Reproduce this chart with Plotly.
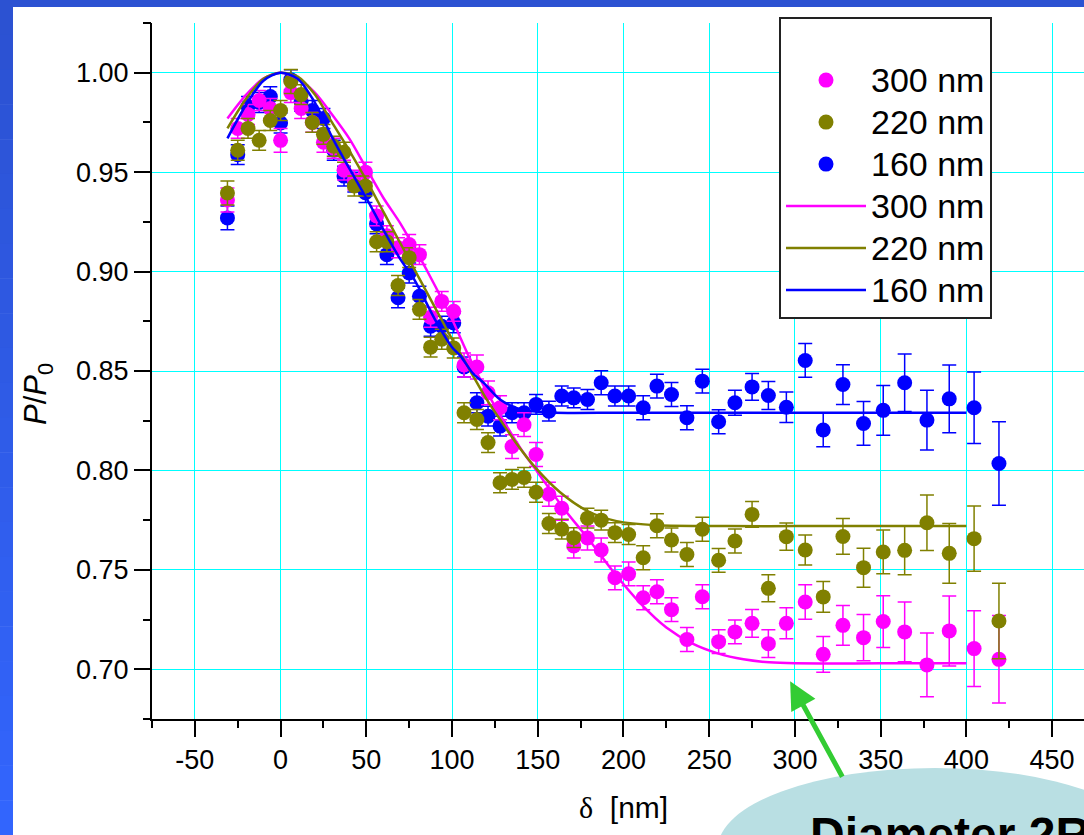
import plotly.graph_objects as go

# ---------------- data ----------------
delta = [-31, -25, -19, -12.5, -6, 0, 6, 12, 18.5, 25, 31, 37, 43, 49.5, 56, 62, 68.5, 75, 81, 87.5,
         94, 101, 107, 114.5, 121, 128, 135, 142, 149, 156.5, 164, 171, 179, 187, 195, 203, 211.5,
         219.5, 228, 237, 246, 255.5, 265, 275, 284.5, 295, 306, 316.5, 328, 340, 351.5, 364, 377,
         390, 404.5, 419]

p300 = [0.936, 0.972, 0.979, 0.986, 0.982, 0.966, 0.990, 0.982, 0.975, 0.965, 0.962, 0.951, 0.946,
        0.950, 0.928, 0.918, 0.912, 0.9136, 0.9085, 0.877, 0.885, 0.880, 0.853, 0.852, 0.839, 0.8315,
        0.812, 0.823, 0.808, 0.788, 0.781, 0.762, 0.766, 0.760, 0.746, 0.748, 0.736, 0.739, 0.730,
        0.715, 0.7365, 0.7139, 0.7188, 0.7231, 0.7129, 0.7231, 0.7338, 0.7075, 0.7221, 0.7159, 0.724,
        0.7188, 0.7022, 0.7193, 0.7104, 0.705]
e300 = [0.006, 0.005, 0.005, 0.005, 0.005, 0.006, 0.005, 0.005, 0.005, 0.005, 0.005, 0.005, 0.005,
        0.005, 0.005, 0.005, 0.005, 0.005, 0.005, 0.005, 0.005, 0.005, 0.006, 0.006, 0.006, 0.006,
        0.006, 0.006, 0.006, 0.006, 0.006, 0.006, 0.006, 0.006, 0.006, 0.006, 0.006, 0.006, 0.006,
        0.006, 0.006, 0.006, 0.006, 0.007, 0.007, 0.0078, 0.0087, 0.009, 0.010, 0.0116, 0.013,
        0.015, 0.016, 0.0176, 0.019, 0.022]

p220 = [0.9395, 0.961, 0.972, 0.966, 0.976, 0.981, 0.9956, 0.989, 0.975, 0.969, 0.963, 0.960, 0.943,
        0.943, 0.915, 0.915, 0.893, 0.907, 0.881, 0.862, 0.866, 0.8616, 0.829, 0.8256, 0.814, 0.7938,
        0.7955, 0.7965, 0.789, 0.7733, 0.7705, 0.7662, 0.776, 0.775, 0.7687, 0.7678, 0.7561, 0.7722,
        0.765, 0.7577, 0.7704, 0.7548, 0.7645, 0.7779, 0.7407, 0.7667, 0.760, 0.7364, 0.7668, 0.7511,
        0.759, 0.7598, 0.7737, 0.7583, 0.7657, 0.7243]
e220 = [0.006, 0.005, 0.005, 0.005, 0.005, 0.005, 0.006, 0.005, 0.005, 0.005, 0.005, 0.005, 0.005,
        0.005, 0.005, 0.005, 0.005, 0.005, 0.005, 0.005, 0.005, 0.005, 0.005, 0.005, 0.005, 0.005,
        0.005, 0.005, 0.005, 0.005, 0.005, 0.005, 0.005, 0.005, 0.005, 0.005, 0.006, 0.006, 0.006,
        0.006, 0.006, 0.006, 0.006, 0.0065, 0.0068, 0.0069, 0.0075, 0.0077, 0.009, 0.0098, 0.011,
        0.0123, 0.014, 0.015, 0.0164, 0.019]

p160 = [0.927, 0.9588, 0.983, 0.985, 0.988, 0.9747, 0.9965, 0.9856, 0.981, 0.977, 0.961, 0.948,
        0.945, 0.9397, 0.924, 0.9085, 0.8868, 0.8993, 0.8876, 0.8725, 0.8725, 0.8742, 0.852, 0.834,
        0.8273, 0.8223, 0.829, 0.829, 0.8332, 0.8298, 0.8374, 0.8365, 0.8357, 0.8441, 0.8374, 0.8374,
        0.8315, 0.8424, 0.8382, 0.8265, 0.8449, 0.8245, 0.834, 0.842, 0.8377, 0.8318, 0.8553, 0.8203,
        0.8432, 0.8236, 0.8302, 0.8441, 0.8253, 0.836, 0.8315, 0.8035]
e160 = [0.006, 0.005, 0.005, 0.005, 0.005, 0.005, 0.005, 0.005, 0.005, 0.005, 0.005, 0.005, 0.005,
        0.005, 0.005, 0.005, 0.005, 0.005, 0.005, 0.005, 0.005, 0.005, 0.005, 0.005, 0.005, 0.005,
        0.005, 0.005, 0.005, 0.005, 0.005, 0.005, 0.005, 0.006, 0.005, 0.005, 0.006, 0.006, 0.006,
        0.006, 0.006, 0.006, 0.0063, 0.0067, 0.007, 0.0077, 0.0085, 0.0084, 0.010, 0.011, 0.0125,
        0.0145, 0.015, 0.017, 0.018, 0.021]

# fitted curves
fit300_x = [-31, -20, -10, 0, 10, 20, 30, 40, 50, 60, 70, 80, 90, 100, 110, 120, 130, 140, 150, 165,
            180, 195, 210, 225, 240, 255, 270, 285, 300, 350, 400]
fit300_y = [0.977, 0.989, 0.997, 1.000, 0.997, 0.990, 0.979, 0.967, 0.952, 0.937, 0.924, 0.909, 0.893,
            0.876, 0.857, 0.840, 0.825, 0.811, 0.799, 0.781, 0.765, 0.748, 0.733, 0.721, 0.713, 0.708,
            0.705, 0.7035, 0.703, 0.703, 0.703]

fit220_x = [-31, -20, -10, 0, 10, 20, 30, 40, 50, 60, 70, 80, 90, 100, 110, 120, 128, 138, 148, 163,
            179, 196, 220, 260, 300, 400]
fit220_y = [0.972, 0.987, 0.997, 1.000, 0.998, 0.989, 0.975, 0.961, 0.946, 0.930, 0.914, 0.898, 0.882,
            0.866, 0.851, 0.836, 0.8256, 0.813, 0.802, 0.789, 0.7796, 0.7745, 0.7724, 0.772, 0.772, 0.772]

fit160_x = [-31, -20, -10, 0, 10, 20, 31, 40, 50, 60, 70, 78, 90, 100, 105, 112, 118.5, 128, 140, 150,
            160, 200, 300, 400]
fit160_y = [0.967, 0.984, 0.996, 1.000, 0.997, 0.985, 0.966, 0.952, 0.937, 0.921, 0.906, 0.896, 0.876,
            0.862, 0.8575, 0.849, 0.844, 0.8357, 0.8307, 0.8295, 0.829, 0.829, 0.829, 0.829]

names = ["300 nm", "220 nm", "160 nm"]
colors = ["#ff00ff", "#808000", "#0000ff"]

x_tickvals = [-50, 0, 50, 100, 150, 200, 250, 300, 350, 400, 450]
x_ticktext = ["-50", "0", "50", "100", "150", "200", "250", "300", "350", "400", "450"]
x_minor = [-75, -25, 25, 75, 125, 175, 225, 275, 325, 375, 425]
y_tickvals = [0.70, 0.75, 0.80, 0.85, 0.90, 0.95, 1.00]
y_ticktext = ["0.70", "0.75", "0.80", "0.85", "0.90", "0.95", "1.00"]
y_minor = [0.675, 0.725, 0.775, 0.825, 0.875, 0.925, 0.975, 1.025]

X_RANGE = [-75, 468.6]
Y_RANGE = [0.675, 1.025]

# ---------------- geometry helpers ----------------
W, H = 1084, 835
ML, MR, MT, MB = 152, 0, 23, 116
PW, PH = W - ML - MR, H - MT - MB


def px_x(px):
    return (px - ML) / PW


def px_y(py):
    return (H - MB - py) / PH


FONT = "Liberation Sans, Arial, sans-serif"

fig = go.Figure()

pts = [(p300, e300), (p220, e220), (p160, e160)]
fits = [(fit300_x, fit300_y), (fit220_x, fit220_y), (fit160_x, fit160_y)]

LEG = "<span style='font-size:34px'>%s</span>"

# draw order: blue, pink, olive markers; then lines
for i in [2, 0, 1]:
    y, e = pts[i]
    fig.add_trace(go.Scatter(
        x=delta, y=y, mode="markers", name=LEG % names[i],
        legendrank=i + 1,
        marker=dict(size=15, color=colors[i]),
        error_y=dict(type="data", array=e, visible=True, color=colors[i], thickness=1.5, width=7),
    ))
for i in [0, 1, 2]:
    fx, fy = fits[i]
    fig.add_trace(go.Scatter(
        x=fx, y=fy, mode="lines", name=LEG % names[i],
        legendrank=i + 4,
        line=dict(color=colors[i], width=2.5, shape="spline", smoothing=0.8),
    ))

# empty helper trace so the minor-tick overlay axes get drawn
fig.add_trace(go.Scatter(x=[], y=[], xaxis="x2", yaxis="y2", showlegend=False, hoverinfo="skip"))

axis_common = dict(
    showline=True, linecolor="black", linewidth=2,
    ticks="outside", ticklen=16, tickwidth=2, tickcolor="black",
    showgrid=True, gridcolor="#00ffff", gridwidth=1.2,
    zeroline=False, mirror=False,
    tickfont=dict(family=FONT, size=27, color="black"),
)
minor_common = dict(
    ticks="outside", ticklen=8, tickwidth=2, tickcolor="black",
    showticklabels=False, showgrid=False, showline=False, zeroline=False,
)

fig.update_layout(
    xaxis=dict(range=X_RANGE, tickmode="array", tickvals=x_tickvals, ticktext=x_ticktext,
               **axis_common),
    yaxis=dict(range=Y_RANGE, tickmode="array", tickvals=y_tickvals, ticktext=y_ticktext,
               **axis_common),
    xaxis2=dict(range=X_RANGE, overlaying="x", anchor="y2", side="bottom", tickmode="array",
                tickvals=x_minor, **minor_common),
    yaxis2=dict(range=Y_RANGE, overlaying="y", anchor="x2", side="left", tickmode="array",
                tickvals=y_minor, **minor_common),
)

shapes = []
# slide background strips (blue)
nb = 24
for k in range(nb):
    t0 = k / nb
    t1 = (k + 1) / nb
    r = int(44 + (51 - 44) * t0)
    g = int(82 + (102 - 82) * t0)
    b = int(210 + (255 - 210) * t0)
    shapes.append(dict(type="rect", xref="paper", yref="paper",
                       x0=px_x(0), x1=px_x(13), y0=px_y(H * t1 + 0.5), y1=px_y(H * t0),
                       fillcolor="rgb(%d,%d,%d)" % (r, g, b), line=dict(width=0), layer="above"))
shapes.append(dict(type="rect", xref="paper", yref="paper",
                   x0=px_x(0), x1=px_x(W), y0=px_y(7), y1=px_y(0),
                   fillcolor="rgb(44,82,210)", line=dict(width=0), layer="above"))
# callout ellipse
shapes.append(dict(type="circle", xref="paper", yref="paper",
                   x0=px_x(935 - 217), x1=px_x(935 + 217), y0=px_y(848 + 80), y1=px_y(848 - 80),
                   fillcolor="#b9dfe3", line=dict(width=0), layer="above"))

annotations = [
    dict(xref="paper", yref="paper", x=px_x(38), y=px_y(394), xanchor="center", yanchor="middle",
         showarrow=False, textangle=-90,
         text="<i>P</i>/<i>P</i><sub>0</sub>", font=dict(family=FONT, size=31, color="black")),
    dict(xref="paper", yref="paper", x=px_x(623), y=px_y(807), xanchor="center", yanchor="middle",
         showarrow=False,
         text="<span style='font-family:Liberation Serif'>δ</span>  [nm]",
         font=dict(family=FONT, size=30, color="black")),
    dict(xref="x", yref="y", x=297.2, y=0.694, ax=53, ay=97, axref="pixel", ayref="pixel",
         text="", showarrow=True, arrowhead=2, arrowsize=1.1, arrowwidth=5, arrowcolor="#33cc33",
         standoff=0),
    dict(xref="paper", yref="paper", x=px_x(808), y=px_y(834), xanchor="left", yanchor="middle",
         showarrow=False, text="<b>Diameter 2R</b>",
         font=dict(family=FONT, size=48, color="black")),
]

fig.update_layout(
    template="none",
    width=W, height=H,
    margin=dict(l=ML, r=MR, t=MT, b=MB, pad=0),
    paper_bgcolor="white", plot_bgcolor="white",
    shapes=shapes, annotations=annotations,
    showlegend=True,
    legend=dict(
        x=px_x(779), y=px_y(17), xanchor="left", yanchor="top",
        bgcolor="white", bordercolor="#222222", borderwidth=2,
        font=dict(family=FONT, size=30, color="black"),
        traceorder="normal", itemwidth=80,
        title=dict(text=" ", font=dict(family=FONT, size=27)),
    ),
)

fig.write_html("out.html")
